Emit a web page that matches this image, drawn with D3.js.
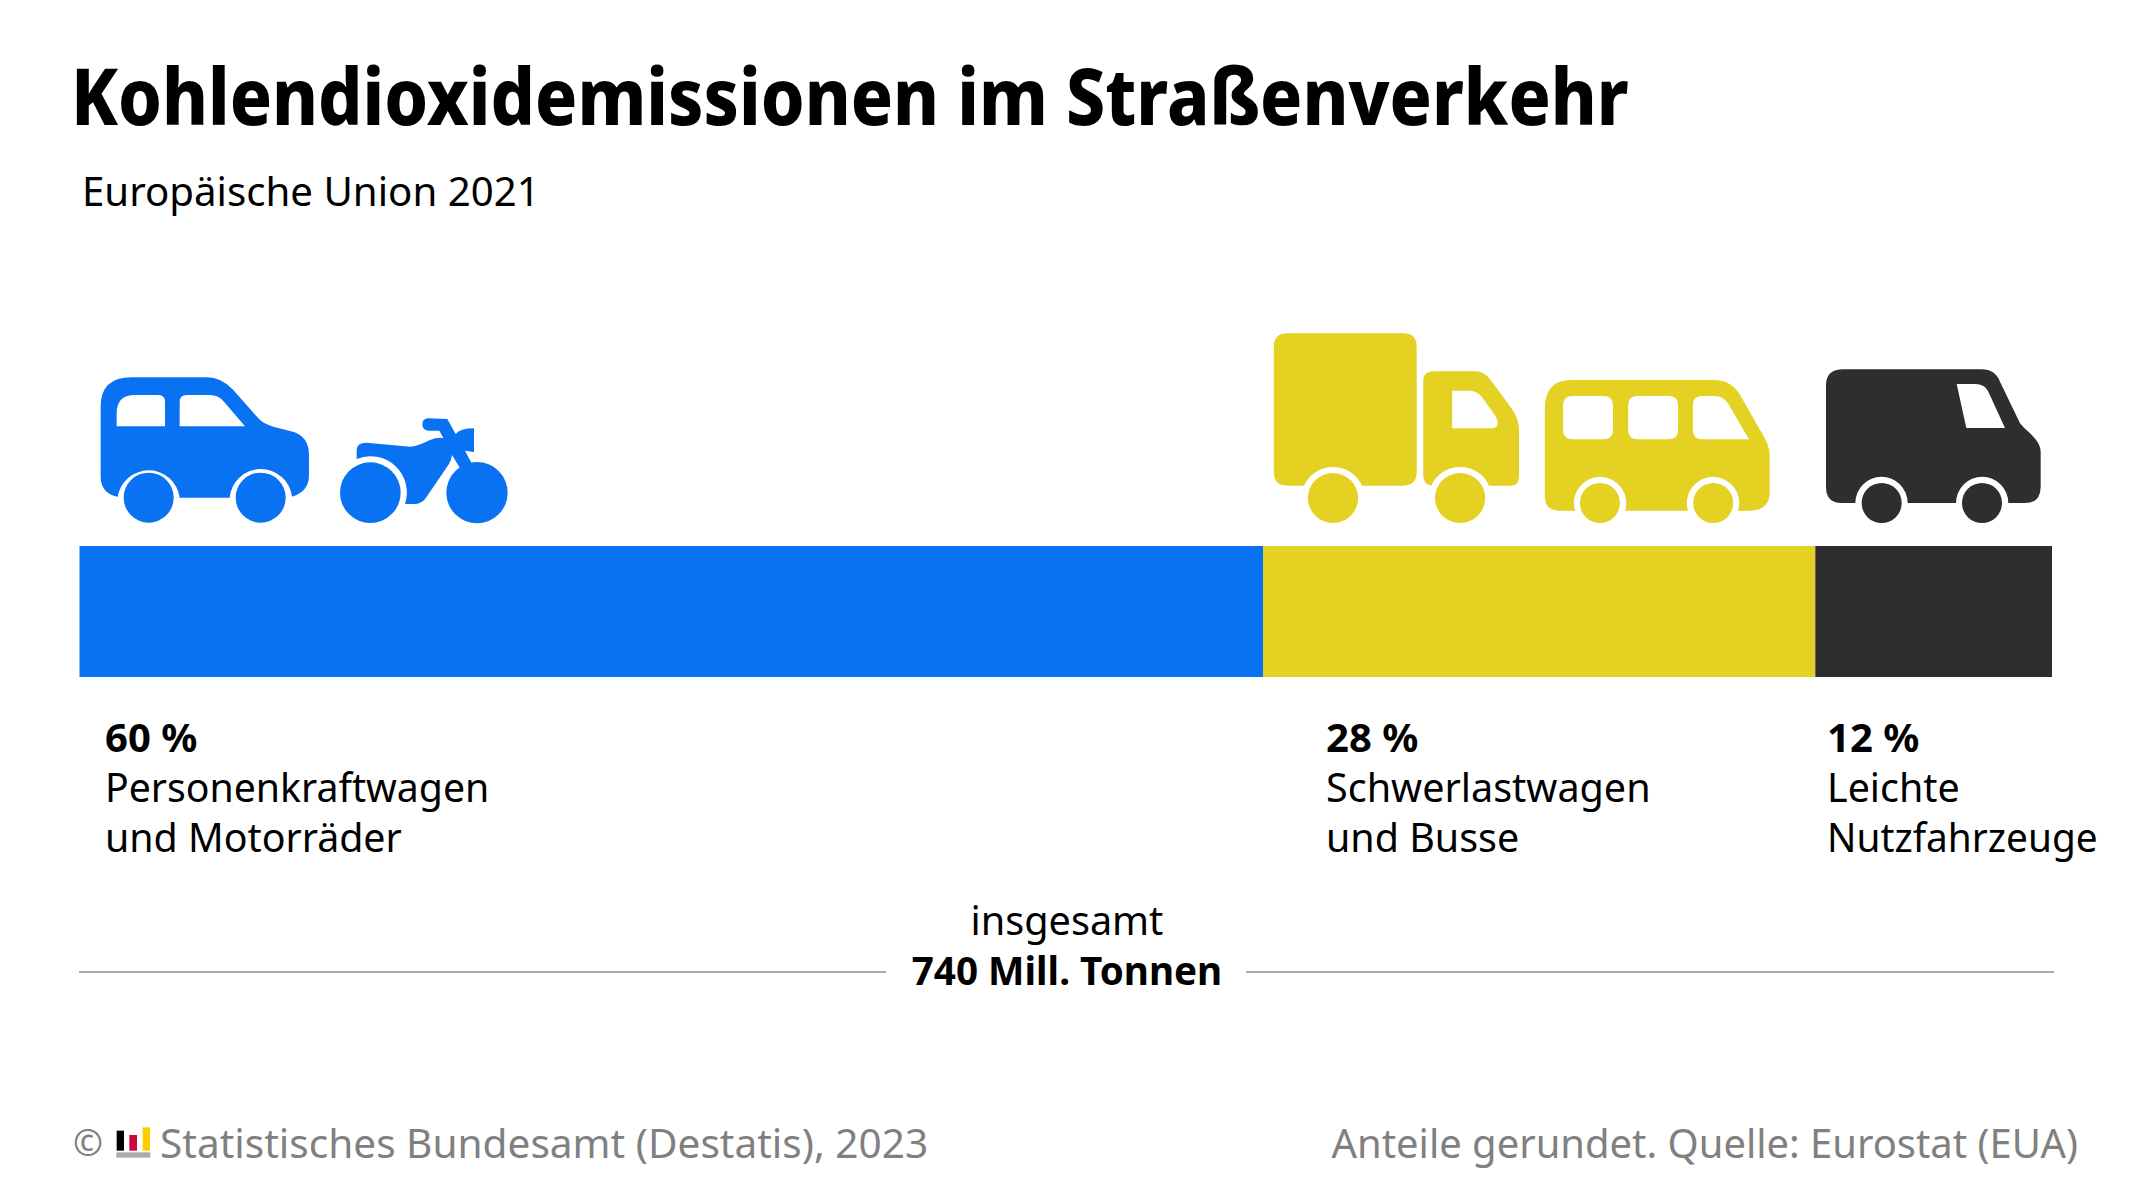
<!DOCTYPE html>
<html>
<head>
<meta charset="utf-8">
<script src="https://cdn.jsdelivr.net/npm/d3@7"></script>
<style>
  html, body { margin: 0; padding: 0; background: #fff; }
  svg { display: block; }
  text { font-family: "Noto Sans", sans-serif; }
</style>
</head>
<body>
<div id="chart"></div>
<script>
var categories = ["Personenkraftwagen und Motorräder", "Schwerlastwagen und Busse", "Leichte Nutzfahrzeuge"];
var shares = [60, 28, 12];
var shareLabels = ["60 %", "28 %", "12 %"];
var labelLines = [["Personenkraftwagen", "und Motorräder"], ["Schwerlastwagen", "und Busse"], ["Leichte", "Nutzfahrzeuge"]];
var colors = ["#0872f3", "#e4d122", "#2e2e2e"];
var labelX = [105, 1326, 1827];
var lineFit = [[0.98, 0.983], [0.988, 0.985], [0.985, 0.97]];

var width = 2134, height = 1200;
var svg = d3.select("#chart").append("svg").attr("width", width).attr("height", height);

var x = d3.scaleLinear().domain([0, 100]).range([79.5, 2052]);

// squeeze a text to the width of the original typeface
function fit(sel, k) {
    sel.each(function() {
        var len = this.getComputedTextLength();
        d3.select(this).attr("textLength", len * k).attr("lengthAdjust", "spacingAndGlyphs");
    });
    return sel;
}

function put(str, px, py, size, weight, color, anchor) {
    return svg.append("text")
        .attr("x", px).attr("y", py)
        .attr("font-size", size).attr("font-weight", weight)
        .attr("fill", color).attr("text-anchor", anchor || "start")
        .text(str);
}

fit(put("Kohlendioxidemissionen im Straßenverkehr", 71, 125, 78, 800, "#000"), 0.895);
fit(put("Europäische Union 2021", 82, 206, 40, 400, "#000"), 1.005);

// bar
var cum = d3.cumsum(shares);
svg.selectAll("rect.seg").data(shares).enter().append("rect")
    .attr("class", "seg")
    .attr("x", function(d, i) { return x(cum[i] - d); })
    .attr("width", function(d) { return x(d) - x(0); })
    .attr("y", 546).attr("height", 131)
    .attr("fill", function(d, i) { return colors[i]; });

// labels under the bar
shareLabels.forEach(function(s, i) {
    fit(put(s, labelX[i], 752, 40, 700, "#000"), 1);
    labelLines[i].forEach(function(l, j) {
        fit(put(l, labelX[i], 802 + j * 50, 40, 400, "#000"), lineFit[i][j]);
    });
});

// total
fit(put("insgesamt", 1067, 935, 40, 400, "#000", "middle"), 0.99);
fit(put("740 Mill. Tonnen", 1067, 985, 40, 700, "#000", "middle"), 0.966);
svg.append("line").attr("x1", 79).attr("x2", 886).attr("y1", 972).attr("y2", 972).attr("stroke", "#aaa").attr("stroke-width", 2);
svg.append("line").attr("x1", 1246).attr("x2", 2054).attr("y1", 972).attr("y2", 972).attr("stroke", "#aaa").attr("stroke-width", 2);

// footer
put("©", 73, 1156, 36, 400, "#808080");
fit(put("Statistisches Bundesamt (Destatis), 2023", 160, 1158, 40, 400, "#808080"), 1.014);
fit(put("Anteile gerundet. Quelle: Eurostat (EUA)", 2078, 1158, 40, 400, "#808080", "end"), 0.998);
var logo = svg.append("g").attr("transform", "translate(60,1110) scale(0.3333)");
[[170, 62, 22, 60, "#000"], [208, 75, 23, 47, "#d0043c"], [248, 52, 22, 70, "#ffcc00"], [169, 127, 102, 16, "#aaa"]].forEach(function(r) {
    logo.append("rect").attr("x", r[0]).attr("y", r[1]).attr("width", r[2]).attr("height", r[3]).attr("fill", r[4]);
});

function icon(ox, oy, sx, sy, color, bodies, wheels, holes) {
    var g = svg.append("g").attr("transform", "translate(" + ox + "," + oy + ") scale(" + sx + "," + sy + ")").attr("fill", color);
    bodies.forEach(function(p) { g.append("path").attr("d", p); });
    holes.forEach(function(p) { g.append("path").attr("d", p).attr("fill", "#fff"); });
    wheels.forEach(function(w) { g.append("ellipse").attr("cx", w[0]).attr("cy", w[1]).attr("rx", w[2]).attr("ry", w[3] || w[2]); });
}

function rr(x0, y0, w, h, r) {
    return "M" + (x0 + r) + "," + y0 + " h" + (w - 2 * r) + " q" + r + ",0 " + r + "," + r + " v" + (h - 2 * r) +
        " q0," + r + " -" + r + "," + r + " h-" + (w - 2 * r) + " q-" + r + ",0 -" + r + ",-" + r + " v-" + (h - 2 * r) + " q0,-" + r + " " + r + ",-" + r + "Z";
}

icon(80, 340, 1 / 3, 1 / 3, colors[0],
    ["M62,200 Q62,112 155,112 L380,112 Q425,112 460,150 L535,235 Q550,252 580,260 L630,273 Q687,285 687,345 L687,405 Q687,455 636,470 A94,94 0 0 0 449,473 L299,473 A94,94 0 0 0 113,470 Q62,460 62,410 Z",
     "M830,357 L830,330 Q830,308 860,308 L990,320 Q1010,320 1050,300 Q1070,292 1090,294 L1078,272 L1045,272 Q1027,270 1027,253 Q1027,236 1045,235 L1102,237 L1127,282 Q1140,265 1182,265 L1182,336 L1155,332 L1175,370 L1140,384 L1116,345 Q1115,360 1105,375 L1040,470 Q1028,492 1000,492 L975,492 A109,109 0 0 0 830,357 Z"],
    [[206, 473, 75], [542, 473, 75], [871, 458, 91], [1191, 458, 92]],
    ["M110,259 L110,220 Q110,165 165,165 L235,165 Q255,165 255,185 L255,259 Z",
     "M299,259 L299,185 Q299,165 320,165 L390,165 Q415,165 430,183 L495,259 Z"]);

// this crop came back narrower than 3x in x
icon(1260, 320, 540 / 1568, 1 / 3, colors[1],
    ["M80,40 L415,40 Q455,40 455,80 L455,457 Q455,497 415,497 L296,497 A92,95 0 0 0 128,497 L80,497 Q40,497 40,457 L40,80 Q40,40 80,40Z",
     "M474,185 Q474,154 505,154 L625,154 Q650,154 668,178 L730,265 Q752,295 752,330 L752,470 Q752,497 725,497 L665,497 A92,95 0 0 0 497,497 Q474,493 474,465 Z",
     "M827,265 Q827,180 905,180 L1320,180 Q1370,180 1397,230 L1455,335 Q1480,375 1480,405 L1480,515 Q1480,572 1420,572 L1388,572 A76,78 0 1 0 1243,572 L1060,572 A76,78 0 1 0 915,572 L870,572 Q827,572 827,530 Z"],
    [[212, 534, 73, 75], [581, 534, 73, 75], [987, 549, 58, 60], [1316, 549, 58, 60]],
    ["M558,212 L610,212 Q630,212 645,232 L685,290 Q700,325 670,325 L558,325 Z",
     rr(880, 228, 145, 130, 28), rr(1069, 228, 145, 130, 28),
     "M1257,255 Q1257,228 1285,228 L1320,228 Q1345,228 1360,252 L1420,358 L1285,358 Q1257,358 1257,330 Z"]);

icon(1800, 350, 1 / 3, 1 / 3, colors[2],
    ["M78,105 Q78,58 130,58 L545,58 Q585,58 600,95 L660,220 Q672,235 690,250 Q722,280 722,305 L722,410 Q722,459 675,459 L625,459 A78,78 0 0 0 468,459 L323,459 A78,78 0 0 0 166,459 L125,459 Q78,459 78,410 Z"],
    [[245, 459, 60], [546, 459, 60]],
    ["M470,102 L525,102 Q555,102 565,125 L615,234 L499,234 Z"]);
</script>
</body>
</html>
